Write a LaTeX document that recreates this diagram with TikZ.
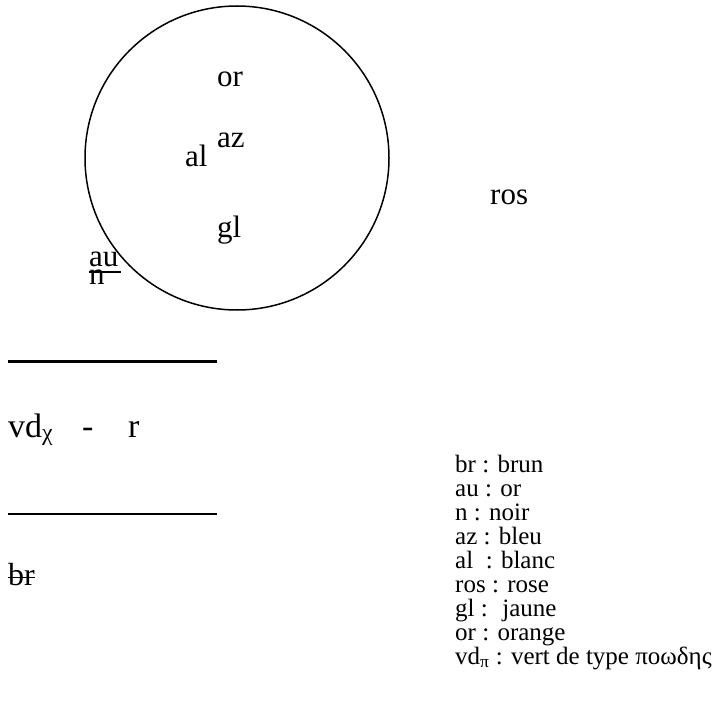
\documentclass[tikz,border=0pt]{standalone}
\usepackage{fontspec}
\setmainfont{Liberation Serif}
\usetikzlibrary{positioning}
\begin{document}
\begin{tikzpicture}[
  x=1pt, y=-1pt,
  colour/.style={anchor=base west, inner sep=0pt, font=\fontsize{31}{36}\selectfont},
  legend/.style={anchor=base west, inner sep=0pt, font=\fontsize{25}{24}\selectfont},
  ring/.style={circle, draw, line width=1.5pt, minimum size=304pt, inner sep=0pt}
]
  \useasboundingbox (0,0) rectangle (718,714);
  % the disc and what sits in it
  \node[ring] (disc) at (237,158) {};
  \node[colour] (or) at (217,87) {or};
  \node[colour] (az) at (217,148) {az};
  \node[colour] (al) at (185,167) {al};
  \node[colour] (gl) at (217,238) {gl};
  \node[colour] (ros) at (490,205) {ros};

  % au over n
  \node[colour] (au) at (89,267) {au};
  \node[colour] (n) at (89,285) {n};
  \draw[line width=1.2pt] ([yshift=-5pt]au.base west) -- ([yshift=-5pt,xshift=2pt]au.base east);

  % the band on the left
  \draw[line width=3pt] (8,361) -- (217,361);
  \node[colour, font=\fontsize{34}{40}\selectfont] (vd) at (8,437) {vd\textsubscript{χ}};
  \node[colour, font=\fontsize{34}{40}\selectfont] (dash) at (82,437) {-};
  \node[colour, font=\fontsize{34}{40}\selectfont] (r) at (128,437) {r};
  \draw[line width=1.5pt] (8,514) -- (217,514);
  \node[colour, font=\fontsize{32}{36}\selectfont] (br) at (8,585) {br};
  \draw[line width=1pt] ([yshift=8pt]br.base west) -- ([yshift=8pt]br.base east);

  % key
  \foreach \entry [count=\i] in {br : brun, au : or, n : noir, az : bleu,
      al~ : blanc, ros : rose, gl :~ jaune, or : orange,
      vd\textsubscript{π} : vert de type ποωδης}
    \node[legend] (key\i) at (455,{472+24*(\i-1)}) {\entry};
\end{tikzpicture}
\end{document}
